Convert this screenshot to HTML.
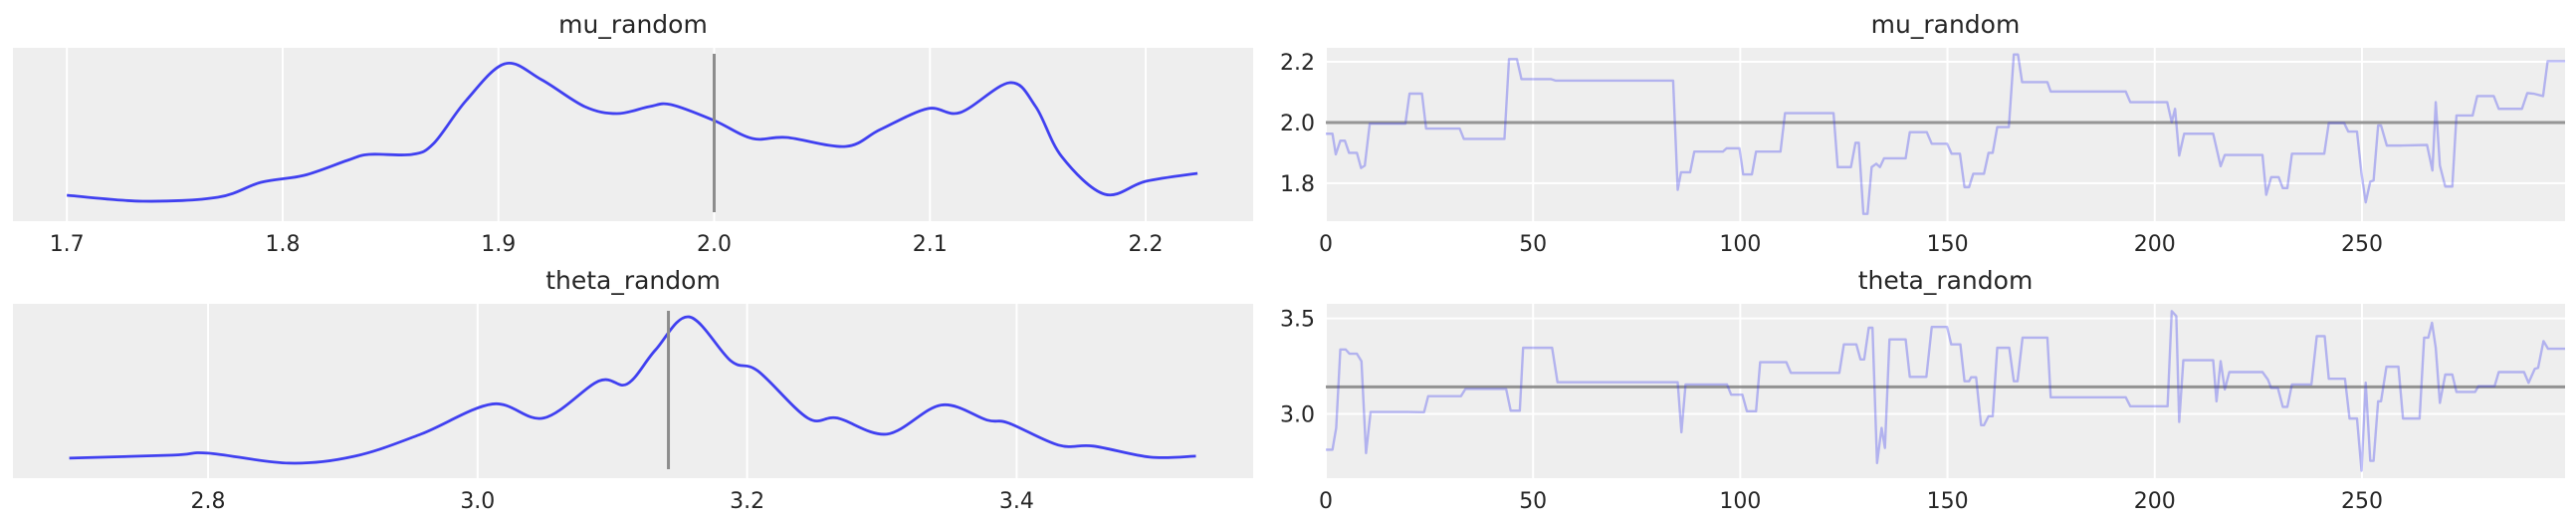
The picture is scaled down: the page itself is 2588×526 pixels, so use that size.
<!DOCTYPE html>
<html><head><meta charset="utf-8"><style>
html,body{margin:0;padding:0;background:#fff;}
svg{display:block;font-family:"DejaVu Sans","Liberation Sans",sans-serif;}
</style></head><body>
<svg id="fig" width="2588" height="526" viewBox="0 0 2588 526" xmlns="http://www.w3.org/2000/svg"></svg>
<script>
// ---- data ----
const muKdeX = [1.7,1.735,1.77,1.79,1.81,1.83,1.84,1.86,1.87,1.885,1.903,1.92,1.94,1.955,1.97,1.98,2.0,2.0177,2.0337,2.061,2.077,2.099,2.114,2.137,2.149,2.161,2.181,2.2,2.224];
const muKdeD = [26,20,24,39,46,61,67,67,78,121,158,142,115,108,115,117,101,83,84,75,92,113,109,139,115,65,27,40,48];
const thetaKdeX = [2.697,2.774,2.8,2.86,2.909,2.958,3.011,3.049,3.09,3.111,3.132,3.157,3.188,3.208,3.245,3.267,3.304,3.344,3.378,3.394,3.431,3.457,3.499,3.533];
const thetaKdeD = [20,23,25,15,22,44,74,60,97,94,128,161,117,107,60,60,44,73,58,55,33,32,21,22];
const muRef = 2.0;
const thetaRef = 3.1416;
const muIter = [0,1.6,2.4,3.5,4.6,5.6,7.5,8.5,9.4,10.6,19.2,20.2,23.2,24.2,32.3,33.3,43.1,44.2,46.1,47.2,54.3,55.4,83.8,84.9,85.7,87.9,88.9,95.8,96.7,99.8,100.7,102.8,103.8,109.7,110.8,122.5,123.5,126.7,127.8,128.6,129.7,130.7,131.7,132.8,133.7,134.7,139.9,140.9,145,146.2,149.9,151,153,154.1,155.2,156.2,158.8,159.9,160.9,162,164.8,166,167,168,174.1,174.9,193,194.1,203,204.1,204.9,205.9,207.1,214.1,215.9,216.9,226,226.9,228.1,229.9,230.9,232,233.1,240.9,242,245.7,246.7,248.8,249.9,250.9,252,252.8,253.9,254.6,256,259.4,265.7,267,267.8,268.8,270.1,271.8,272.8,276.7,277.8,281.8,283,288.6,289.9,291.4,293.7,294.8,299];
const muVal = [1.963,1.963,1.895,1.94,1.94,1.90,1.90,1.85,1.858,1.996,1.996,2.095,2.095,1.98,1.98,1.946,1.946,2.209,2.209,2.143,2.143,2.138,2.138,1.778,1.836,1.836,1.904,1.904,1.915,1.915,1.829,1.829,1.904,1.904,2.031,2.031,1.853,1.853,1.933,1.933,1.699,1.699,1.853,1.864,1.853,1.882,1.882,1.968,1.968,1.93,1.93,1.897,1.897,1.787,1.787,1.831,1.831,1.90,1.90,1.985,1.985,2.224,2.224,2.133,2.133,2.102,2.102,2.067,2.067,2.001,2.045,1.891,1.963,1.963,1.856,1.893,1.893,1.762,1.82,1.82,1.784,1.784,1.897,1.897,1.998,1.998,1.97,1.97,1.831,1.737,1.805,1.809,1.99,1.99,1.924,1.924,1.926,1.842,2.067,1.858,1.789,1.789,2.023,2.023,2.087,2.087,2.045,2.045,2.097,2.095,2.087,2.202,2.202];
const thetaIter = [0,1.6,2.5,3.5,4.8,5.7,7.5,8.6,9.7,10.8,19.9,23.7,24.7,32.6,33.7,43.5,44.6,46.8,47.6,54.6,55.9,84.9,85.8,86.8,96.8,97.8,100.5,101.6,103.8,104.8,111.1,112.2,123.9,125,128,129,129.9,131,131.9,133,134.1,134.9,136,139.9,140.9,144.9,146.2,149.9,150.9,153.1,154.1,155.2,155.7,156.9,158.1,158.8,159.9,160.9,162,164.9,166,166.9,168.1,174.1,174.9,193,194.1,203.1,204.1,205.2,205.9,206.9,214.1,214.9,215.9,216.9,218,226,227.3,228.1,229.7,230.9,232,233.1,237.8,239.1,241,242,245.9,247,248.8,249.9,250.9,252,252.8,253.9,254.6,255.9,258.8,259.9,263.9,265,266,266.9,267.8,268.8,270.1,271.8,272.8,277.3,278.1,282,283,289.1,290.2,291.7,292.5,293.8,294.9,299];
const thetaVal = [2.813,2.813,2.927,3.337,3.337,3.315,3.315,3.276,2.795,3.01,3.01,3.009,3.093,3.093,3.131,3.131,3.017,3.017,3.346,3.346,3.166,3.166,2.904,3.154,3.154,3.101,3.101,3.014,3.014,3.271,3.271,3.215,3.215,3.364,3.364,3.285,3.285,3.451,3.451,2.743,2.927,2.822,3.39,3.39,3.194,3.194,3.455,3.455,3.364,3.364,3.171,3.171,3.192,3.192,2.941,2.941,2.988,2.988,3.346,3.346,3.171,3.171,3.399,3.399,3.087,3.087,3.04,3.04,3.538,3.512,2.958,3.281,3.281,3.066,3.276,3.128,3.219,3.219,3.18,3.136,3.136,3.037,3.037,3.154,3.154,3.407,3.407,3.184,3.184,2.976,2.976,2.703,3.163,2.755,2.755,3.066,3.066,3.247,3.247,2.976,2.976,3.399,3.399,3.477,3.346,3.058,3.206,3.206,3.115,3.115,3.145,3.145,3.219,3.219,3.163,3.236,3.241,3.381,3.341,3.341];
const muKdeTicks = ["1.7","1.8","1.9","2.0","2.1","2.2"];
const thetaKdeTicks = ["2.8","3.0","3.2","3.4"];
const iterTicks = ["0","50","100","150","200","250"];
const muYTicks = ["1.8","2.0","2.2"];
const thetaYTicks = ["3.0","3.5"];

// ---- helpers ----
const NS = "http://www.w3.org/2000/svg";
const svg = document.getElementById('fig');
function mk(tag, attrs, parent){
  const e = document.createElementNS(NS, tag);
  for (const k in attrs) e.setAttribute(k, attrs[k]);
  (parent||svg).appendChild(e);
  return e;
}
function lin(d0,d1,r0,r1){return v => r0 + (v-d0)/(d1-d0)*(r1-r0);}
function smoothPath(pts){
  let d = "M"+pts[0][0]+","+pts[0][1];
  for (let i=0;i<pts.length-1;i++){
    const p0=pts[Math.max(0,i-1)], p1=pts[i], p2=pts[i+1], p3=pts[Math.min(pts.length-1,i+2)];
    const c1x=p1[0]+(p2[0]-p0[0])/6, c1y=p1[1]+(p2[1]-p0[1])/6;
    const c2x=p2[0]-(p3[0]-p1[0])/6, c2y=p2[1]-(p3[1]-p1[1])/6;
    d += " C"+c1x.toFixed(2)+","+c1y.toFixed(2)+" "+c2x.toFixed(2)+","+c2y.toFixed(2)+" "+p2[0].toFixed(2)+","+p2[1].toFixed(2);
  }
  return d;
}
let clipId = 0;
function panel(name, x0, x1, y0, y1, title){
  const g = mk('g', {});
  
  
  const bg = mk('rect', {x:x0, y:y0, width:x1-x0, height:y1-y0, fill:'#eeeeee'}, g);
  
  
  const t = mk('text', {x:(x0+x1)/2, y:y0-15, 'text-anchor':'middle', 'font-size':'25', fill:'#262626'}, g);
  t.textContent = title;
  
  
  clipId++;
  const cp = mk('clipPath', {id:'c'+clipId}, g);
  mk('rect', {x:x0, y:y0, width:x1-x0, height:y1-y0}, cp);
  const inner = mk('g', {'clip-path':'url(#c'+clipId+')'}, g);
  return {g, inner};
}
function xTicks(p, labels, sx, y0, y1){
  labels.forEach(l => {
    const x = sx(parseFloat(l));
    const gl = mk('line', {x1:x, x2:x, y1:y0, y2:y1, stroke:'#ffffff', 'stroke-width':2}, p.inner);
    
    
    const t = mk('text', {x:x, y:y1+30, 'text-anchor':'middle', 'font-size':'22', fill:'#262626'}, p.g);
    t.textContent = l;
    
    
  });
}
function yTicks(p, labels, sy, x0, x1){
  labels.forEach(l => {
    const y = sy(parseFloat(l));
    const gl = mk('line', {x1:x0, x2:x1, y1:y, y2:y, stroke:'#ffffff', 'stroke-width':2}, p.inner);
    
    
    const t = mk('text', {x:x0-11, y:y+8, 'text-anchor':'end', 'font-size':'22', fill:'#262626'}, p.g);
    t.textContent = l;
    
    
  });
}
function kde(name, xs, ds, sx, sy, p){
  const pts = xs.map((x,i)=>[sx(x), sy(ds[i])]);
  const path = mk('path', {d:smoothPath(pts), fill:'none', stroke:'#4040f0', 'stroke-width':2.8, 'stroke-linejoin':'round'}, p.inner);
  
  
}
function trace(name, xs, vs, sx, sy, p){
  const d = xs.map((x,i)=>(i?'L':'M')+sx(x).toFixed(2)+','+sy(vs[i]).toFixed(2)).join(' ');
  const path = mk('path', {d:d, fill:'none', stroke:'#3b3bf0', 'stroke-opacity':0.33, 'stroke-width':2.4, 'stroke-linejoin':'round'}, p.inner);
  
  
}

// ---- geometry ----
const LX0=13, LX1=1259, RX0=1332, RX1=2577;
const TY0=48, TY1=222, BY0=305, BY1=480;

const p1 = panel('mu-kde-panel', LX0, LX1, TY0, TY1, 'mu_random');
const sx1 = lin(1.675, 2.2498, LX0, LX1);
const sy1 = lin(0, 174, TY1, TY0);
xTicks(p1, muKdeTicks, sx1, TY0, TY1);
kde('mu-kde-curve', muKdeX, muKdeD, sx1, sy1, p1);
const v1 = mk('line', {x1:sx1(muRef), x2:sx1(muRef), y1:54, y2:213, stroke:'#8c8c8c', 'stroke-width':3}, p1.inner);



const p2 = panel('theta-kde-panel', LX0, LX1, BY0, BY1, 'theta_random');
const sx2 = lin(2.6552, 3.5755, LX0, LX1);
const sy2 = lin(0, 174, BY1, BY0);
xTicks(p2, thetaKdeTicks, sx2, BY0, BY1);
kde('theta-kde-curve', thetaKdeX, thetaKdeD, sx2, sy2, p2);
const v2 = mk('line', {x1:sx2(thetaRef), x2:sx2(thetaRef), y1:312, y2:471, stroke:'#8c8c8c', 'stroke-width':3}, p2.inner);



const p3 = panel('mu-trace-panel', RX0, RX1, TY0, TY1, 'mu_random');
const sx3 = lin(0, 299, RX0, RX1);
const sy3 = lin(1.675, 2.246, TY1, TY0);
xTicks(p3, iterTicks, sx3, TY0, TY1);
yTicks(p3, muYTicks, sy3, RX0, RX1);
const h1 = mk('line', {x1:RX0, x2:RX1, y1:sy3(muRef), y2:sy3(muRef), stroke:'#7a7a7a', 'stroke-opacity':0.8, 'stroke-width':3}, p3.inner);


trace('mu-trace-line', muIter, muVal, sx3, sy3, p3);

const p4 = panel('theta-trace-panel', RX0, RX1, BY0, BY1, 'theta_random');
const sx4 = lin(0, 299, RX0, RX1);
const sy4 = lin(2.664, 3.576, BY1, BY0);
xTicks(p4, iterTicks, sx4, BY0, BY1);
yTicks(p4, thetaYTicks, sy4, RX0, RX1);
const h2 = mk('line', {x1:RX0, x2:RX1, y1:sy4(thetaRef), y2:sy4(thetaRef), stroke:'#7a7a7a', 'stroke-opacity':0.8, 'stroke-width':3}, p4.inner);


trace('theta-trace-line', thetaIter, thetaVal, sx4, sy4, p4);
</script>
</body></html>
